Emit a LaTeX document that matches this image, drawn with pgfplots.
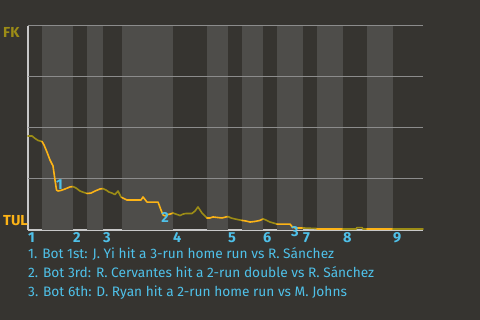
\documentclass[border=0pt]{standalone}
\usepackage{pgfplots}
\pgfplotsset{compat=1.18}
\usepackage{fontspec}
\setmainfont{Fira Sans}
\definecolor{bg}{HTML}{363430}
\definecolor{band}{HTML}{4E4D4A}
\definecolor{gridc}{HTML}{8C8C8C}
\definecolor{axc}{HTML}{C8C8C8}
\definecolor{tul}{HTML}{FCB316}
\definecolor{fk}{HTML}{9C8C16}
\definecolor{lbl}{HTML}{4FC1E9}
\begin{document}
\begin{tikzpicture}
\useasboundingbox (0,0) rectangle (480bp,320bp);
\fill[bg] (0,0) rectangle (480bp,320bp);
\begin{axis}[
 at={(28bp,90bp)}, anchor=south west,
 scale only axis, width=395bp, height=204bp,
 xmin=28, xmax=423, ymin=0, ymax=1,
 axis x line*=bottom, axis y line*=left,
 axis line style={axc, line width=1.2bp, -},
 ytick=\empty,
 xtick={28,73,103,173,228,263,303,343,393},
 xticklabels={1,2,3,4,5,6,7,8,9},
 major tick length=0pt,
 xticklabel style={anchor=base west, inner sep=0pt, yshift=-13bp,
   font=\fontsize{14.5bp}{16bp}\selectfont\bfseries, text=lbl},
 clip=false,
]
% shaded bottom halves
\addplot[draw=none, fill=band] coordinates {(42,0)(42,1)(73,1)(73,0)} -- cycle;
\addplot[draw=none, fill=band] coordinates {(87,0)(87,1)(103,1)(103,0)} -- cycle;
\addplot[draw=none, fill=band] coordinates {(122,0)(122,1)(173,1)(173,0)} -- cycle;
\addplot[draw=none, fill=band] coordinates {(207,0)(207,1)(228,1)(228,0)} -- cycle;
\addplot[draw=none, fill=band] coordinates {(242,0)(242,1)(263,1)(263,0)} -- cycle;
\addplot[draw=none, fill=band] coordinates {(277,0)(277,1)(303,1)(303,0)} -- cycle;
\addplot[draw=none, fill=band] coordinates {(317,0)(317,1)(343,1)(343,0)} -- cycle;
\addplot[draw=none, fill=band] coordinates {(367,0)(367,1)(393,1)(393,0)} -- cycle;
% grid lines
\addplot[gridc, line width=1bp] coordinates {(28,0.25)(423,0.25)};
\addplot[gridc, line width=1bp] coordinates {(28,0.5)(423,0.5)};
\addplot[gridc, line width=1bp] coordinates {(28,0.75)(423,0.75)};
\addplot[gridc, line width=1bp] coordinates {(28,1)(423,1)};
% win probability, by half inning
\pgfplotsset{wp/.style={line width=1.6bp, line join=round, line cap=round}}
\addplot[wp, fk] coordinates {(28,0.461)(32,0.461)(35,0.449)(38,0.439)(42,0.434)};
\addplot[wp, tul] coordinates {(42,0.434)(44,0.417)(47,0.382)(50,0.343)(53,0.314)(55,0.245)(56.5,0.196)(58,0.191)(61,0.194)(65,0.201)(70,0.211)(73,0.213)};
\addplot[wp, fk] coordinates {(73,0.213)(76,0.206)(80,0.191)(84,0.184)(87,0.179)};
\addplot[wp, tul] coordinates {(87,0.179)(91,0.181)(95,0.191)(100,0.201)(103,0.203)};
\addplot[wp, fk] coordinates {(103,0.203)(106,0.196)(109,0.186)(112,0.181)(115,0.174)(118,0.191)(121,0.162)(122,0.159)};
\addplot[wp, tul] coordinates {(122,0.159)(127,0.147)(141,0.147)(143,0.162)(147,0.137)(158,0.137)(161,0.098)(163,0.074)(165,0.069)(168,0.076)(170,0.078)(173,0.083)};
\addplot[wp, fk] coordinates {(173,0.083)(176,0.078)(180,0.071)(183,0.078)(186,0.081)(192,0.081)(195,0.093)(198,0.113)(202,0.083)(205,0.069)(207,0.059)};
\addplot[wp, tul] coordinates {(207,0.059)(210,0.059)(213,0.064)(218,0.061)(222,0.059)(226,0.064)(228,0.066)};
\addplot[wp, fk] coordinates {(228,0.066)(231,0.059)(235,0.054)(240,0.049)(242,0.047)};
\addplot[wp, tul] coordinates {(242,0.047)(246,0.044)(250,0.039)(255,0.042)(260,0.047)(263,0.054)};
\addplot[wp, fk] coordinates {(263,0.054)(265,0.051)(270,0.039)(275,0.032)(277,0.029)};
\addplot[wp, tul] coordinates {(277,0.029)(290,0.029)(292,0.017)(295,0.010)(303,0.010)};
\addplot[wp, fk] coordinates {(303,0.010)(317,0.007)};
\addplot[wp, tul] coordinates {(317,0.005)(343,0.005)};
\addplot[wp, fk] coordinates {(343,0.005)(356,0.005)(357,0.012)(362,0.012)(363,0.005)(367,0.005)};
\addplot[wp, tul] coordinates {(367,0.005)(393,0.005)};
\addplot[wp, fk] coordinates {(393,0.005)(423,0.005)};
% event markers
\node[text=lbl, inner sep=0pt, font=\fontsize{14.5bp}{16bp}\selectfont\bfseries] at (axis cs:59.5,0.225) {1};
\node[text=lbl, inner sep=0pt, font=\fontsize{14.5bp}{16bp}\selectfont\bfseries] at (axis cs:165,0.061) {2};
\node[text=lbl, inner sep=0pt, font=\fontsize{14.5bp}{16bp}\selectfont\bfseries] at (axis cs:295,-0.01) {3};
\end{axis}
\node[anchor=base west, inner sep=0pt, text=fk, font=\fontsize{14.5bp}{16bp}\selectfont\bfseries] at (3bp,282bp) {FK};
\node[anchor=base west, inner sep=0pt, text=tul, font=\fontsize{14.5bp}{16bp}\selectfont\bfseries] at (3bp,94bp) {TUL};
\node[anchor=base west, inner sep=0pt, text=lbl, font=\fontsize{13.7bp}{15bp}\selectfont] at (28bp,61bp) {1. Bot 1st: J. Yi hit a 3-run home run vs R. Sánchez};
\node[anchor=base west, inner sep=0pt, text=lbl, font=\fontsize{13.7bp}{15bp}\selectfont] at (28bp,42.3bp) {2. Bot 3rd: R. Cervantes hit a 2-run double vs R. Sánchez};
\node[anchor=base west, inner sep=0pt, text=lbl, font=\fontsize{13.7bp}{15bp}\selectfont] at (28bp,24bp) {3. Bot 6th: D. Ryan hit a 2-run home run vs M. Johns};
\end{tikzpicture}
\end{document}
